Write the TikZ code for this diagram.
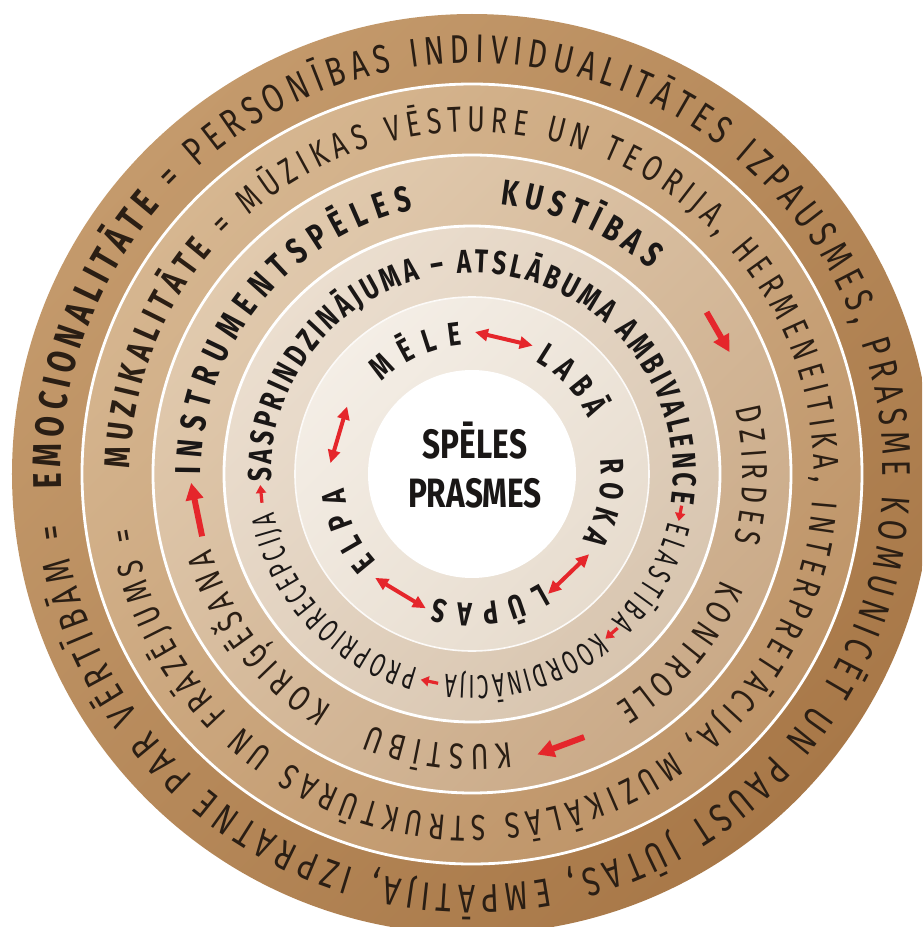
\documentclass[tikz,border=0pt]{standalone}
\usepackage{fontspec}
\setmainfont{Fira Sans}[FakeStretch=0.74]
\newfontfamily\narrowf{Fira Sans}[FakeStretch=0.62]
\newfontfamily\ctrf{Fira Sans}[FakeStretch=0.77]
\usetikzlibrary{decorations.text,arrows.meta}
\definecolor{rAl}{HTML}{C49A6C}\definecolor{rAd}{HTML}{A87848}
\definecolor{rBl}{HTML}{D6B690}\definecolor{rBd}{HTML}{BE9468}
\definecolor{rCl}{HTML}{E1CAAE}\definecolor{rCd}{HTML}{CAAA88}
\definecolor{rDl}{HTML}{EBDECF}\definecolor{rDd}{HTML}{D8C5AF}
\definecolor{rEl}{HTML}{F4EEE6}\definecolor{rEd}{HTML}{E7DCCE}
\definecolor{txtbrown}{HTML}{2A1E14}
\definecolor{txtblack}{HTML}{1A1716}
\definecolor{arrred}{HTML}{E5262B}
\newcommand\szA{\fontsize{40}{44}\selectfont}
\newcommand\szB{\fontsize{36}{40}\selectfont}
\newcommand\szC{\fontsize{36}{40}\selectfont}
\newcommand\szD{\fontsize{33}{37}\selectfont}
\newcommand\szE{\fontsize{33}{37}\selectfont}
\newcommand\arctext[5]{\path[decorate,decoration={text along path,text color=#4,text align={fit to path},text={#5}}] (#2:#1) arc[start angle=#2,end angle=#3,radius=#1];}
\tikzset{
  sep/.style={draw=white,line width=2.8pt},
  bigarrow/.style={draw=arrred,line width=6pt,-{Triangle[length=17pt,width=17pt]}},
  smallarrow/.style={draw=arrred,line width=3.2pt,-{Triangle[length=8pt,width=10pt]}},
  dblarrow/.style={draw=arrred,line width=4pt,{Triangle[length=13pt,width=12pt]}-{Triangle[length=13pt,width=12pt]}}
}
\begin{document}
\begin{tikzpicture}[x=1pt,y=1pt]
\useasboundingbox (-472,-453) rectangle (450,474);
\clip (-472,-453) rectangle (450,474);
% rings
\shade[top color=rAl,bottom color=rAd,shading angle=45] (0,0) circle (460pt);
\shade[top color=rBl,bottom color=rBd,shading angle=45] (0,0) circle (390pt);
\shade[top color=rCl,bottom color=rCd,shading angle=45] (0,0) circle (319pt);
\shade[top color=rDl,bottom color=rDd,shading angle=45] (0,0) circle (248pt);
\shade[top color=rEl,bottom color=rEd,shading angle=45] (0,0) circle (177pt);
\fill[white] (0,0) circle (104pt);
\draw[sep] (0,0) circle (390pt);
\draw[sep] (0,0) circle (319pt);
\draw[sep] (0,0) circle (248pt);
\draw[draw=white!70!rEl,line width=1.6pt] (0,0) circle (177pt);
% ring 0
\arctext{411pt}{182}{-173}{txtbrown}{|\szA\bfseries|EMOCIONALITĀTE|\szA\mdseries| = PERSONĪBAS INDIVIDUALITĀTES IZPAUSMES, PRASME KOMUNICĒT UN PAUST JŪTAS, EMPĀTIJA, IZPRATNE PAR VĒRTĪBĀM =}
% ring 1
\arctext{342pt}{179}{-171}{txtbrown}{|\szB\bfseries|MUZIKALITĀTE|\szB\mdseries| = MŪZIKAS VĒSTURE UN TEORIJA, HERMENEITIKA, INTERPRETĀCIJA, MUZIKĀLĀS STRUKTŪRAS UN FRĀZĒJUMS =}
% ring 2
\arctext{271pt}{180}{102.5}{txtblack}{|\szC\bfseries|INSTRUMENTSPĒLES}
\arctext{271pt}{84}{49}{txtblack}{|\szC\bfseries|KUSTĪBAS}
\arctext{271pt}{14}{-14.5}{txtbrown}{|\szC\mdseries|DZIRDES}
\arctext{271pt}{-23}{-58}{txtbrown}{|\szC\mdseries|KONTROLE}
\arctext{271pt}{-81.8}{-112}{txtbrown}{|\szC\mdseries|KUSTĪBU}
\arctext{271pt}{-121}{-164}{txtbrown}{|\szC\mdseries|KORIĢĒŠANA}
\draw[bigarrow] (34.6:285pt) -- (25.3:285pt);
\draw[bigarrow] (-66.9:286pt) -- (-76.9:288pt);
\draw[bigarrow] (-167:277pt) -- (-178.2:281pt);
% ring 3
\arctext{201pt}{182.2}{-8.2}{txtblack}{|\szD\bfseries|SASPRINDZINĀJUMA – ATSLĀBUMA AMBIVALENCE}
\arctext{202pt}{-13.6}{-46.3}{txtblack}{|\szD\narrowf|ELASTĪBA}
\arctext{202pt}{-51.6}{-97.5}{txtblack}{|\szD\narrowf|KOORDINĀCIJA}
\arctext{202pt}{-105.4}{-169}{txtblack}{|\szD\narrowf|PROPRIORECEPCIJA}
\draw[smallarrow] (-8.6:212pt) -- (-12.8:212pt);
\draw[smallarrow] (-46.6:212pt) -- (-51.0:212pt);
\draw[smallarrow] (-99.2:212pt) -- (-104.0:212pt);
\draw[smallarrow] (-172.2:212pt) -- (-177.0:212pt);
% ring 4
\arctext{129pt}{134.5}{94.5}{txtblack}{|\szE\bfseries|MĒLE}
\arctext{129pt}{60.5}{25.5}{txtblack}{|\szE\bfseries|LABĀ}
\arctext{129pt}{6.5}{-30.5}{txtblack}{|\szE\bfseries|ROKA}
\arctext{129pt}{-58}{-106.5}{txtblack}{|\szE\bfseries|LŪPAS}
\arctext{129pt}{-137.5}{-173.5}{txtblack}{|\szE\bfseries|ELPA}
\draw[dblarrow] (88.8:142pt) -- (64.7:142pt);
\draw[dblarrow] (-34.4:142pt) -- (-57.6:142pt);
\draw[dblarrow] (-109:142pt) -- (-133:142pt);
\draw[dblarrow] (175.6:142pt) -- (151.6:142pt);
% centre
\node[font=\ctrf\bfseries\fontsize{41}{45}\selectfont,text=txtblack,anchor=base,inner sep=0pt] (t1) at (3,16) {SPĒLES};
\node[font=\ctrf\bfseries\fontsize{41}{45}\selectfont,text=txtblack,anchor=base,inner sep=0pt] (t2) at (3,-33) {PRASMES};
\end{tikzpicture}
\end{document}
